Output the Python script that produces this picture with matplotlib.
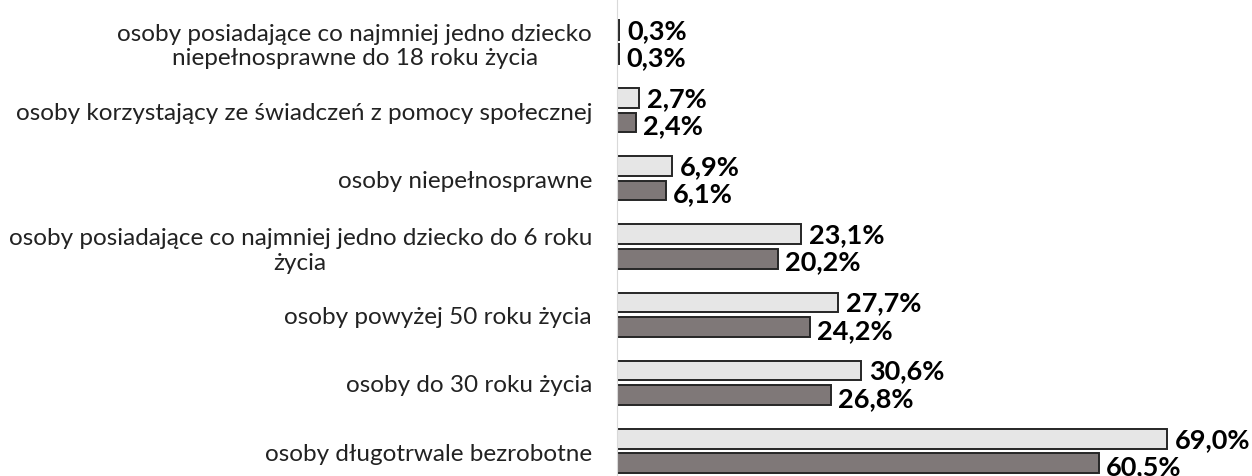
import matplotlib
matplotlib.use("Agg")
import matplotlib.pyplot as plt
import numpy as np

plt.rcParams['font.family'] = ['Lato', 'DejaVu Sans']

# categories from bottom to top
categories = [
    "osoby długotrwale bezrobotne",
    "osoby do 30 roku życia",
    "osoby powyżej 50 roku życia",
    "osoby posiadające co najmniej jedno dziecko do 6 roku\nżycia",
    "osoby niepełnosprawne",
    "osoby korzystający ze świadczeń z pomocy społecznej",
    "osoby posiadające co najmniej jedno dziecko\nniepełnosprawne do 18 roku życia",
]
series_light = [69.0, 30.6, 27.7, 23.1, 6.9, 2.7, 0.3]
series_dark = [60.5, 26.8, 24.2, 20.2, 6.1, 2.4, 0.3]


def fmt(v):
    return ("%.1f%%" % v).replace(".", ",")


def main():
    fig = plt.figure(figsize=(12.52, 4.77), dpi=100)
    ax = fig.add_axes([617 / 1252, 0, 1 - 617 / 1252, 1])

    y = np.arange(len(categories))
    h = 0.29
    off = 0.18
    ax.barh(y + off, series_light, height=h, color='#e6e6e6', edgecolor='#262626', linewidth=1.4)
    ax.barh(y - off, series_dark, height=h, color='#7f7878', edgecolor='#262626', linewidth=1.4)

    # value labels
    for yi, v in zip(y, series_light):
        ax.annotate(fmt(v), (v, yi + off), xytext=(6, 0), textcoords='offset points',
                    ha='left', va='center', fontsize=19.5, fontweight='bold')
    for yi, v in zip(y, series_dark):
        ax.annotate(fmt(v), (v, yi - off), xytext=(5, -2), textcoords='offset points',
                    ha='left', va='center', fontsize=19.5, fontweight='bold')

    ax.set_xlim(0, (1252 - 617) / 7.97)
    ax.set_ylim(-25 / 68.2, 6 + 43 / 68.2)
    ax.set_yticks(y)
    ax.set_yticklabels(categories, fontsize=17.5, color='#222222', linespacing=1.2)
    for lab in ax.get_yticklabels():
        lab.set_multialignment('center')
    ax.tick_params(axis='y', length=0, pad=18)
    ax.set_xticks([])
    for s in ['top', 'right', 'bottom']:
        ax.spines[s].set_visible(False)
    ax.spines['left'].set_color('#d9d9d9')

    fig.savefig("out.png", dpi=100)


if __name__ == "__main__":
    main()
